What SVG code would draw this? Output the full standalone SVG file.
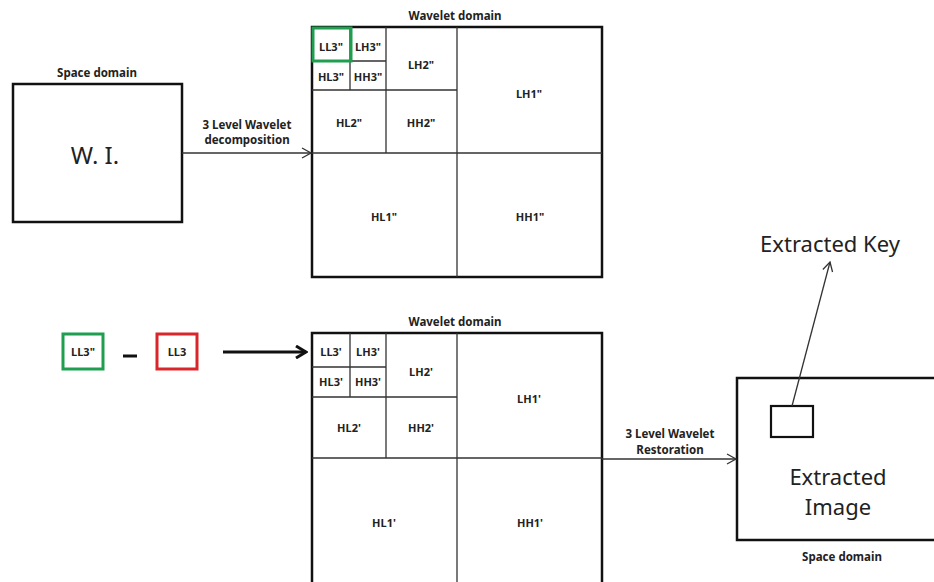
<svg xmlns="http://www.w3.org/2000/svg" width="934" height="582" viewBox="0 0 934 582">
<defs>
<style>
.lbl{font-family:"Noto Sans","Open Sans",sans-serif;font-weight:bold;font-size:11px;fill:#222;text-anchor:middle}
.cap{font-family:"Noto Sans","Open Sans",sans-serif;font-weight:bold;font-size:11.5px;fill:#222;text-anchor:middle}
.big{font-family:"Noto Sans","Open Sans",sans-serif;font-size:24px;fill:#222;text-anchor:middle}
.frame{fill:#fff;stroke:#111;stroke-width:2.5}
.grid{stroke:#333;stroke-width:1.3;fill:none}
.conn{stroke:#333;stroke-width:1.3;fill:none}
</style>
<marker id="open" markerWidth="12" markerHeight="12" refX="10" refY="6" orient="auto" markerUnits="userSpaceOnUse">
<path d="M1,1 L10,6 L1,11" fill="none" stroke="#333" stroke-width="1.3"/>
</marker>
<marker id="thick" markerWidth="14" markerHeight="14" refX="12" refY="7" orient="auto" markerUnits="userSpaceOnUse">
<path d="M2,1 L12,7 L2,13" fill="none" stroke="#111" stroke-width="3"/>
</marker>
</defs>
<rect width="934" height="582" fill="#fff"/>

<g id="wi">
<text class="cap" x="97" y="77">Space domain</text>
<rect class="frame" x="13" y="84" width="169" height="138"/>
<text class="big" x="95" y="164" style="font-size:24px">W. I.</text>
</g>

<g id="wavelet-top">
<text class="cap" x="455" y="20">Wavelet domain</text>
<rect class="frame" x="312" y="27" width="290" height="250"/>
<path class="grid" d="M457,27 V277 M312,153 H602 M386,27 V153 M312,90 H457 M350,27 V90 M312,61 H386"/>
<rect x="313" y="28" width="38" height="33" fill="none" stroke="#1f9e4f" stroke-width="3"/>
<text class="lbl" x="331" y="51">LL3"</text>
<text class="lbl" x="368" y="51">LH3"</text>
<text class="lbl" x="331" y="81">HL3"</text>
<text class="lbl" x="368" y="81">HH3"</text>
<text class="lbl" x="421" y="69">LH2"</text>
<text class="lbl" x="529" y="98">LH1"</text>
<text class="lbl" x="349" y="127">HL2"</text>
<text class="lbl" x="421" y="127">HH2"</text>
<text class="lbl" x="384" y="221">HL1"</text>
<text class="lbl" x="530" y="221">HH1"</text>
</g>

<g id="ll3pp">
<rect x="63" y="334" width="40" height="35" fill="none" stroke="#1f9e4f" stroke-width="3"/>
<text class="lbl" x="83" y="356">LL3"</text>
</g>
<g id="minus">
<line x1="123" y1="356" x2="137" y2="356" stroke="#111" stroke-width="3"/>
</g>
<g id="ll3">
<rect x="157" y="334" width="40" height="35" fill="none" stroke="#d9262b" stroke-width="3"/>
<text class="lbl" x="177" y="356">LL3</text>
</g>

<g id="wavelet-bottom">
<text class="cap" x="455" y="326">Wavelet domain</text>
<rect class="frame" x="312" y="333" width="290" height="252"/>
<path class="grid" d="M457,333 V585 M312,458 H602 M386,333 V458 M312,397 H457 M350,333 V397 M312,367 H386"/>
<text class="lbl" x="331" y="356">LL3'</text>
<text class="lbl" x="368" y="356">LH3'</text>
<text class="lbl" x="331" y="386">HL3'</text>
<text class="lbl" x="368" y="386">HH3'</text>
<text class="lbl" x="421" y="376">LH2'</text>
<text class="lbl" x="529" y="403">LH1'</text>
<text class="lbl" x="349" y="432">HL2'</text>
<text class="lbl" x="421" y="432">HH2'</text>
<text class="lbl" x="384" y="527">HL1'</text>
<text class="lbl" x="530" y="527">HH1'</text>
</g>

<g id="extracted">
<rect class="frame" x="737" y="378" width="210" height="162"/>
<rect x="771" y="406" width="42" height="31" fill="none" stroke="#111" stroke-width="2.2"/>
<text class="big" x="838" y="485" style="font-size:22px">Extracted</text>
<text class="big" x="838" y="515" style="font-size:22px">Image</text>
<text class="cap" x="842" y="561">Space domain</text>
</g>

<g id="key">
<text class="big" x="830" y="252" style="font-size:22px">Extracted Key</text>
</g>

<g id="connectors">
<line class="conn" x1="182" y1="153" x2="311" y2="153" marker-end="url(#open)"/>
<text class="cap" x="247" y="129">3 Level Wavelet</text>
<text class="cap" x="247" y="144">decomposition</text>
<line x1="223" y1="352" x2="306" y2="352" stroke="#111" stroke-width="3" marker-end="url(#thick)"/>
<line class="conn" x1="602" y1="459" x2="736" y2="459" marker-end="url(#open)"/>
<text class="cap" x="670" y="438">3 Level Wavelet</text>
<text class="cap" x="670" y="454">Restoration</text>
<line class="conn" x1="792" y1="406" x2="830" y2="262" marker-end="url(#open)"/>
</g>
</svg>
